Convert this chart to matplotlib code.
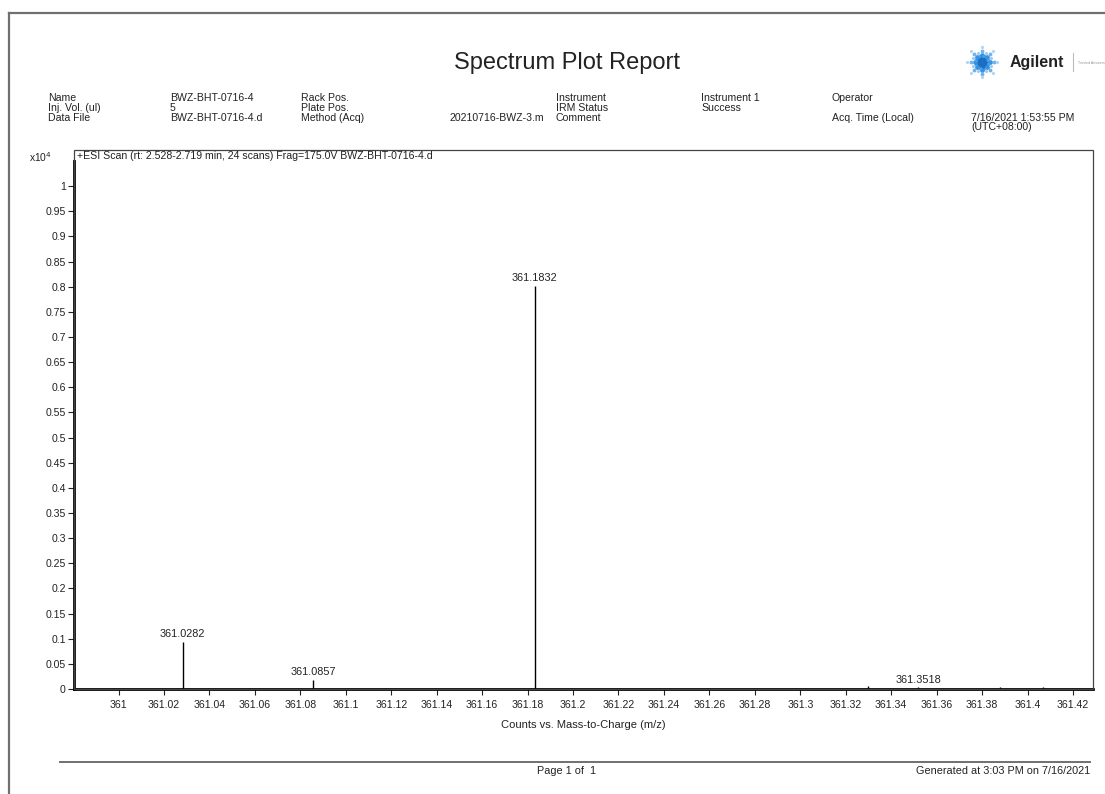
import numpy as np
import matplotlib
matplotlib.use("Agg")
import matplotlib.pyplot as plt
from matplotlib.ticker import FuncFormatter, FixedLocator
from matplotlib.patches import Rectangle
from matplotlib.lines import Line2D

# ---- spectrum data ----
mz = [361.0282, 361.0857, 361.1832, 361.3300, 361.3518, 361.3880, 361.4067]
counts = [940, 180, 8020, 55, 30, 40, 40]
labelled = [361.0282, 361.0857, 361.1832, 361.3518]
label_text = ["361.0282", "361.0857", "361.1832", "361.3518"]
x_ticks = [361.00, 361.02, 361.04, 361.06, 361.08, 361.10, 361.12, 361.14,
           361.16, 361.18, 361.20, 361.22, 361.24, 361.26, 361.28, 361.30,
           361.32, 361.34, 361.36, 361.38, 361.40, 361.42]
y_ticks = [0, 0.05, 0.1, 0.15, 0.2, 0.25, 0.3, 0.35, 0.4, 0.45, 0.5,
           0.55, 0.6, 0.65, 0.7, 0.75, 0.8, 0.85, 0.9, 0.95, 1.0]

header_rows = [
    ["Name", "BWZ-BHT-0716-4", "Rack Pos.", "", "Instrument", "Instrument 1", "Operator", ""],
    ["Inj. Vol. (ul)", "5", "Plate Pos.", "", "IRM Status", "Success", "", ""],
    ["Data File", "BWZ-BHT-0716-4.d", "Method (Acq)", "20210716-BWZ-3.m", "Comment", "", "Acq. Time (Local)", "7/16/2021 1:53:55 PM"],
]
header_cols = [48, 170, 301, 450, 556, 701, 832, 971]

W, H = 1105, 794
plt.rcParams['font.family'] = ['Liberation Sans', 'DejaVu Sans']
fig = plt.figure(figsize=(W / 100, H / 100), dpi=100)


def P(x, y):
    return x / W, 1 - y / H


# page border
fig.add_artist(Line2D([9 / W, 1], [1 - 13 / H, 1 - 13 / H], color="#707070", lw=1.6))
fig.add_artist(Line2D([9 / W, 9 / W], [0, 1 - 13 / H], color="#707070", lw=1.6))

# title
fig.text(*P(567, 63), "Spectrum Plot Report", fontsize=17, ha="center", va="center", color="#222222")

# logo: spark of dots, wordmark, divider, tagline
cx, cy = 982, 62
for k in range(8):
    ang = k * np.pi / 4
    for r, ms, c in [(3.5, 3.0, "#1a6fc4"), (7.5, 2.4, "#3592e0"), (11.5, 1.8, "#72b4ea"), (15, 1.3, "#b0d6f3")]:
        fig.add_artist(Line2D([(cx + r * np.cos(ang)) / W], [1 - (cy + r * np.sin(ang)) / H],
                              marker="o", markersize=ms, color=c, lw=0))
    a2 = ang + np.pi / 8
    for r, ms, c in [(6, 1.6, "#4a9fe6"), (10, 1.2, "#9ccbef")]:
        fig.add_artist(Line2D([(cx + r * np.cos(a2)) / W], [1 - (cy + r * np.sin(a2)) / H],
                              marker="o", markersize=ms, color=c, lw=0))
fig.text(*P(1010, 62), "Agilent", fontsize=11.5, fontweight="bold", ha="left", va="center", color="#222222")
fig.add_artist(Line2D([1073 / W, 1073 / W], [1 - 53 / H, 1 - 71 / H], color="#bbbbbb", lw=0.8))
fig.text(*P(1078, 63), "Trusted Answers", fontsize=2.6, ha="left", va="center", color="#999999")

# header block
for r, row in enumerate(header_rows):
    y = 98 + 10 * r
    for x, t in zip(header_cols, row):
        if t:
            fig.text(*P(x, y), t, fontsize=7.6, ha="left", va="center", color="#222222")
fig.text(*P(971, 127), "(UTC+08:00)", fontsize=7.6, ha="left", va="center", color="#222222")

# outer plot frame
fig.add_artist(Rectangle(P(74, 689), (1093 - 74) / W, (689 - 150) / H, fill=False,
                         edgecolor="#444444", lw=0.9))

# spectrum axes
ax = fig.add_axes([74 / W, 1 - 689 / H, (1093 - 74) / W, (689 - 161) / H])
ax.patch.set_alpha(0)
ax.set_xlim(360.9804, 361.4288)
ax.set_ylim(0, 1.05)
y_vals = [c / 1e4 for c in counts]
ax.vlines(mz, 0, y_vals, color="black", lw=1.0)
for m, t in zip(labelled, label_text):
    yv = y_vals[mz.index(m)]
    ax.annotate(t, (m, yv), xytext=(0, 2), textcoords="offset points",
                ha="center", va="bottom", fontsize=7.8, color="#222222")

ax.xaxis.set_major_locator(FixedLocator(x_ticks))
ax.yaxis.set_major_locator(FixedLocator(y_ticks))
fmt = FuncFormatter(lambda v, p: "%g" % round(v, 4))
ax.xaxis.set_major_formatter(fmt)
ax.yaxis.set_major_formatter(fmt)
ax.tick_params(axis="both", direction="out", length=4, width=0.8, labelsize=7.6,
               colors="#222222", pad=2)
ax.tick_params(axis="x", pad=4)
for side in ["top", "right"]:
    ax.spines[side].set_visible(False)
ax.spines["left"].set_linewidth(2.0)
ax.spines["bottom"].set_linewidth(2.0)
ax.set_xlabel("Counts vs. Mass-to-Charge (m/z)", fontsize=8.0, color="#222222", labelpad=7)

fig.text(*P(52, 157), r"x10$^4$", fontsize=7.4, ha="right", va="center", color="#222222")
fig.text(*P(77, 156), "+ESI Scan (rt: 2.528-2.719 min, 24 scans) Frag=175.0V BWZ-BHT-0716-4.d",
         fontsize=7.6, ha="left", va="center", color="#222222")

# footer
fig.add_artist(Line2D([60 / W, 1090 / W], [1 - 762 / H, 1 - 762 / H], color="#707070", lw=1.4))
fig.text(*P(567, 771), "Page 1 of  1", fontsize=7.8, ha="center", va="center", color="#222222")
fig.text(*P(1090, 771), "Generated at 3:03 PM on 7/16/2021", fontsize=7.8, ha="right", va="center", color="#222222")

fig.savefig("out.png", dpi=100)
